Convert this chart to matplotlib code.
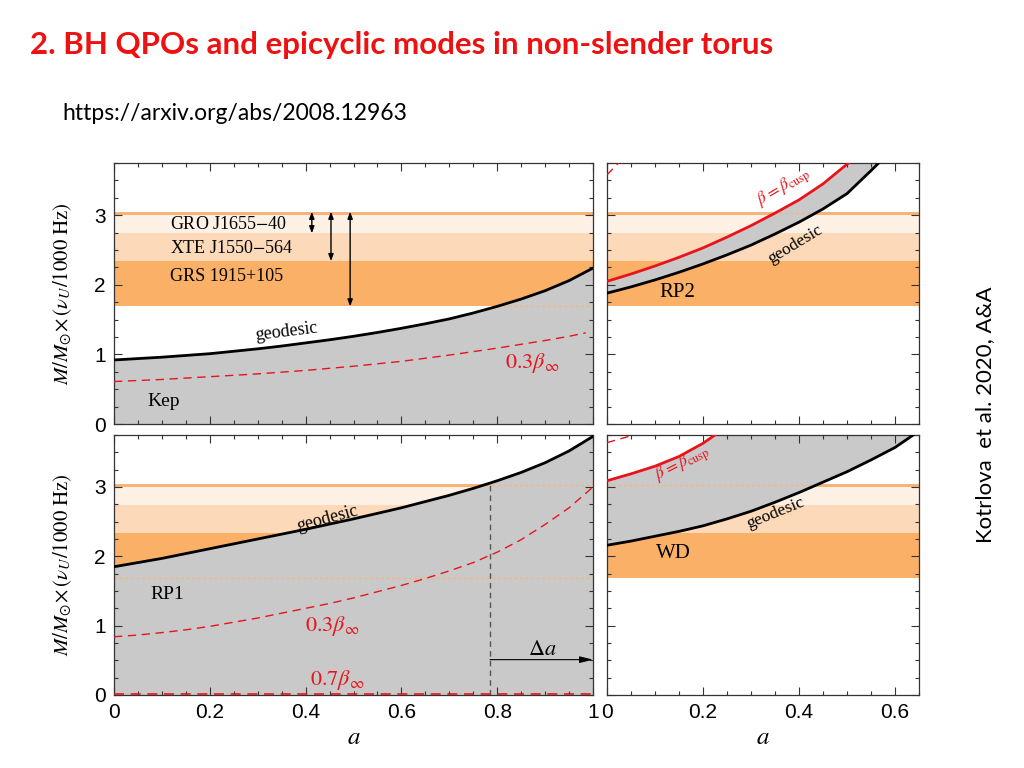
import numpy as np
import matplotlib
matplotlib.use("Agg")
import matplotlib.pyplot as plt
from matplotlib.ticker import MultipleLocator

plt.rcParams['mathtext.fontset'] = 'stix'

# ---------------- data ----------------
# observed frequency bands (M/Msun x nu_U/1000Hz)
band_dark = (1.69, 2.34)      # GRS 1915+105
band_mid = (2.34, 2.74)       # XTE J1550-564
band_light = (2.74, 3.00)     # GRO J1655-40
band_top = (3.00, 3.05)
band_edges = [1.69, 3.03]
source_names = ["GRO J1655$-$40", "XTE J1550$-$564", "GRS 1915+105"]
source_y = [2.87, 2.52, 2.12]
arrow_a = [0.413, 0.453, 0.493]
arrow_lo = [2.74, 2.34, 1.69]
arrow_hi = 3.05

a_grid = [0.0, 0.05, 0.1, 0.15, 0.2, 0.25, 0.3, 0.35, 0.4, 0.45, 0.5,
          0.55, 0.6, 0.65, 0.7, 0.75, 0.8, 0.85, 0.9, 0.95, 1.0]

# Kep panel
kep_geo = [0.92, 0.94, 0.96, 0.985, 1.01, 1.045, 1.08, 1.12, 1.165, 1.21, 1.26,
           1.315, 1.375, 1.44, 1.51, 1.595, 1.69, 1.795, 1.915, 2.06, 2.24]
kep03_a = [0.0, 0.05, 0.1, 0.15, 0.2, 0.25, 0.3, 0.35, 0.4, 0.45, 0.5,
           0.55, 0.6, 0.65, 0.7, 0.75, 0.8, 0.85, 0.9, 0.95, 0.985]
kep03 = [0.61, 0.625, 0.64, 0.66, 0.68, 0.70, 0.72, 0.745, 0.77, 0.80, 0.83,
         0.865, 0.90, 0.945, 0.99, 1.04, 1.09, 1.145, 1.20, 1.26, 1.31]

# RP1 panel
rp1_geo = [1.85, 1.91, 1.97, 2.04, 2.11, 2.18, 2.25, 2.32, 2.39, 2.465, 2.54,
           2.62, 2.70, 2.79, 2.88, 2.98, 3.09, 3.21, 3.35, 3.52, 3.73]
rp1_03 = [0.84, 0.865, 0.90, 0.94, 0.99, 1.05, 1.11, 1.18, 1.25, 1.32, 1.40,
          1.49, 1.58, 1.68, 1.79, 1.91, 2.06, 2.24, 2.46, 2.70, 3.00]
rp1_07_a = [0.0, 1.0]
rp1_07 = [0.02, 0.02]
rp1_acut = 0.785
rp1_acut_y = 3.06
delta_a_y = 0.51

# RP2 panel
rp2_geo_a = [0.0, 0.05, 0.1, 0.15, 0.2, 0.25, 0.3, 0.35, 0.4, 0.45, 0.5, 0.55, 0.566]
rp2_geo = [1.88, 1.97, 2.07, 2.18, 2.30, 2.43, 2.57, 2.73, 2.90, 3.09, 3.31, 3.64, 3.75]
rp2_cusp_a = [0.0, 0.05, 0.1, 0.15, 0.2, 0.25, 0.3, 0.35, 0.4, 0.45, 0.503]
rp2_cusp = [2.05, 2.155, 2.27, 2.395, 2.53, 2.685, 2.85, 3.03, 3.22, 3.45, 3.75]
rp2_03_a = [0.0, 0.024]
rp2_03 = [3.58, 3.75]

# WD panel
wd_geo_a = [0.0, 0.05, 0.1, 0.15, 0.2, 0.25, 0.3, 0.35, 0.4, 0.45, 0.5, 0.55, 0.6, 0.638]
wd_geo = [2.16, 2.22, 2.29, 2.36, 2.44, 2.54, 2.65, 2.78, 2.92, 3.07, 3.22, 3.39, 3.57, 3.75]
wd_cusp_a = [0.0, 0.05, 0.1, 0.15, 0.2, 0.225]
wd_cusp = [3.09, 3.19, 3.30, 3.44, 3.63, 3.75]
wd_03_a = [0.0, 0.056]
wd_03 = [3.64, 3.75]

YMAX = 3.75

# ---------------- style ----------------
C_TOP = '#F7B47A'
C_LIGHT = '#FDF0E4'
C_MID = '#FCDAB9'
C_DARK = '#FBB067'
C_GREY = '#C9C9C9'
C_EDGE = '#F6B57C'
RED = '#E8141C'
SERIF = 'Liberation Serif'

fig = plt.figure(figsize=(10.24, 7.68), dpi=100)

W, H = 1024, 768
def axes_px(x0, y0, x1, y1):
    return fig.add_axes([x0 / W, 1 - y1 / H, (x1 - x0) / W, (y1 - y0) / H])

ax_kep = axes_px(114, 163, 593, 424)
ax_rp2 = axes_px(607, 163, 919, 424)
ax_rp1 = axes_px(114, 435, 593, 695)
ax_wd = axes_px(607, 435, 919, 695)

def style(ax, xmax, ylabels, xlabels):
    ax.set_xlim(0, xmax)
    ax.set_ylim(0, YMAX)
    ax.xaxis.set_major_locator(MultipleLocator(0.2))
    ax.xaxis.set_minor_locator(MultipleLocator(0.05))
    ax.yaxis.set_major_locator(MultipleLocator(1))
    ax.yaxis.set_minor_locator(MultipleLocator(0.25))
    ax.tick_params(which='both', direction='in', top=True, right=True,
                   color='#333333', width=0.8)
    ax.tick_params(which='major', length=6, pad=6)
    ax.tick_params(which='minor', length=3)
    for s in ax.spines.values():
        s.set_color('#333333')
        s.set_linewidth(0.9)
    if not ylabels:
        ax.set_yticklabels([])
    else:
        for t in ax.get_yticklabels():
            t.set_fontfamily('Liberation Sans')
            t.set_fontsize(15)
        ax.set_ylabel(r'$M/M_{\odot}\!\times(\nu_{U}/1000\ \mathrm{Hz})$',
                      fontsize=15, labelpad=14)
    if not xlabels:
        ax.set_xticklabels([])
    else:
        ticks = ax.get_xticks()
        ax.set_xticks(ticks)
        ax.set_xticklabels([('%g' % v) for v in ticks],
                           fontfamily='Liberation Sans', fontsize=15)
        ax.set_xlim(0, xmax)
        ax.set_xlabel(r'$a$', fontsize=18, labelpad=2)

def bands(ax):
    ax.axhspan(*band_dark, color=C_DARK, lw=0, zorder=0)
    ax.axhspan(*band_mid, color=C_MID, lw=0, zorder=0)
    ax.axhspan(*band_light, color=C_LIGHT, lw=0, zorder=0)
    ax.axhspan(*band_top, color=C_TOP, lw=0, zorder=0)

def edges(ax, clip):
    for y in band_edges:
        ln = ax.axhline(y, color=C_EDGE, lw=1.0, ls=(0, (2, 2)), zorder=2)
        ln.set_clip_path(clip)

def grey_under(ax, xs, ys):
    poly = ax.fill(list(xs) + [xs[-1], xs[0]], list(ys) + [0, 0],
                   color=C_GREY, lw=0, zorder=1)[0]
    return poly

def grey_between(ax, xa, ya, xb, yb):
    poly = ax.fill(list(xa) + list(xb[::-1]), list(ya) + list(yb[::-1]),
                   color=C_GREY, lw=0, zorder=1)[0]
    return poly

DASH = (0, (6, 4))

# ---- Kep ----
ax = ax_kep
bands(ax)
poly = grey_under(ax, a_grid, kep_geo)
edges(ax, poly)
ax.plot(a_grid, kep_geo, color='black', lw=2, zorder=4)
ax.plot(kep03_a, kep03, color=RED, lw=1, ls=DASH, zorder=4)
for name, y in zip(source_names, source_y):
    ax.text(0.117, y, name, fontfamily=SERIF, fontsize=13, va='center', ha='left', zorder=5)
for xa, lo in zip(arrow_a, arrow_lo):
    ax.annotate('', xy=(xa, lo), xytext=(xa, arrow_hi),
                arrowprops=dict(arrowstyle='<|-|>,head_length=0.4,head_width=0.15',
                                color='black', lw=1, shrinkA=0, shrinkB=0), zorder=5)
ax.text(0.36, 1.33, 'geodesic', fontfamily=SERIF, fontsize=13, rotation=7,
        ha='center', va='center', zorder=5)
ax.text(0.873, 0.87, r'$0.3\beta_{\infty}$', color=RED, fontsize=16,
        ha='center', va='center', zorder=5)
ax.text(0.07, 0.33, 'Kep', fontfamily=SERIF, fontsize=14, ha='left', va='center', zorder=5)
style(ax, 1.0, True, False)

# ---- RP2 ----
ax = ax_rp2
bands(ax)
poly = grey_between(ax, rp2_geo_a, rp2_geo, rp2_cusp_a, rp2_cusp)
ln = ax.axhline(band_edges[1], color=C_EDGE, lw=1.0, ls=(0, (2, 2)), zorder=2)
ln.set_clip_path(poly)
ax.plot(rp2_geo_a, rp2_geo, color='black', lw=2, zorder=4)
ax.plot(rp2_cusp_a, rp2_cusp, color=RED, lw=2, zorder=4)
ax.plot(rp2_03_a, rp2_03, color=RED, lw=1, ls=DASH, zorder=4)
ax.text(0.147, 1.89, 'RP2', fontfamily=SERIF, fontsize=15, ha='center', va='center', zorder=5)
ax.text(0.392, 2.58, 'geodesic', fontfamily=SERIF, fontsize=12.5, rotation=31,
        ha='center', va='center', zorder=5)
ax.text(0.368, 3.40, r'$\beta=\beta_{\rm cusp}$', color=RED, fontsize=12.5, rotation=31,
        ha='center', va='center', zorder=5)
style(ax, 0.65, False, False)

# ---- RP1 ----
ax = ax_rp1
bands(ax)
poly = grey_under(ax, a_grid, rp1_geo)
edges(ax, poly)
ax.plot(a_grid, rp1_geo, color='black', lw=2, zorder=4)
ax.plot(a_grid, rp1_03, color=RED, lw=1, ls=DASH, zorder=4)
ax.plot(rp1_07_a, rp1_07, color=RED, lw=1.2, ls=DASH, zorder=4)
ax.plot([rp1_acut, rp1_acut], [0, rp1_acut_y], color='#555555', lw=1,
        ls=(0, (4, 3)), zorder=3)
ax.annotate('', xy=(1.0, delta_a_y), xytext=(rp1_acut, delta_a_y),
            arrowprops=dict(arrowstyle='-|>,head_length=0.8,head_width=0.2',
                            color='black', lw=0.8, shrinkA=0, shrinkB=0), zorder=5)
ax.text(0.895, 0.67, r'$\Delta a$', fontsize=16, ha='center', va='center', zorder=5)
ax.text(0.445, 2.55, 'geodesic', fontfamily=SERIF, fontsize=13, rotation=15,
        ha='center', va='center', zorder=5)
ax.text(0.075, 1.45, 'RP1', fontfamily=SERIF, fontsize=14, ha='left', va='center', zorder=5)
ax.text(0.455, 1.00, r'$0.3\beta_{\infty}$', color=RED, fontsize=16,
        ha='center', va='center', zorder=5)
ax.text(0.465, 0.22, r'$0.7\beta_{\infty}$', color=RED, fontsize=16,
        ha='center', va='center', zorder=5)
style(ax, 1.0, True, True)

# ---- WD ----
ax = ax_wd
bands(ax)
poly = grey_between(ax, wd_geo_a, wd_geo, wd_cusp_a, wd_cusp)
ln = ax.axhline(band_edges[1], color=C_EDGE, lw=1.0, ls=(0, (2, 2)), zorder=2)
ln.set_clip_path(poly)
ax.plot(wd_geo_a, wd_geo, color='black', lw=2, zorder=4)
ax.plot(wd_cusp_a, wd_cusp, color=RED, lw=2, zorder=4)
ax.plot(wd_03_a, wd_03, color=RED, lw=1, ls=DASH, zorder=4)
ax.text(0.139, 2.04, 'WD', fontfamily=SERIF, fontsize=15, ha='center', va='center', zorder=5)
ax.text(0.35, 2.62, 'geodesic', fontfamily=SERIF, fontsize=12.5, rotation=22,
        ha='center', va='center', zorder=5)
ax.text(0.158, 3.33, r'$\beta=\beta_{\rm cusp}$', color=RED, fontsize=12.5, rotation=27,
        ha='center', va='center', zorder=5)
style(ax, 0.65, False, True)

# ---------------- slide texts ----------------
fig.text(30 / W, 1 - 45 / H, '2. BH QPOs and epicyclic modes in non-slender torus',
         color='#EE1111', fontfamily='Lato', fontweight='bold', fontsize=22.5,
         ha='left', va='center')
fig.text(62 / W, 1 - 113 / H, 'https://arxiv.org/abs/2008.12963',
         color='black', fontfamily='Lato', fontsize=16.5, ha='left', va='center')
fig.text(985 / W, 1 - 415 / H, 'Kotrlova  et al. 2020, A&A', rotation=90,
         color='black', fontfamily='Lato', fontsize=16, ha='center', va='center')

fig.savefig('out.png', dpi=100)
